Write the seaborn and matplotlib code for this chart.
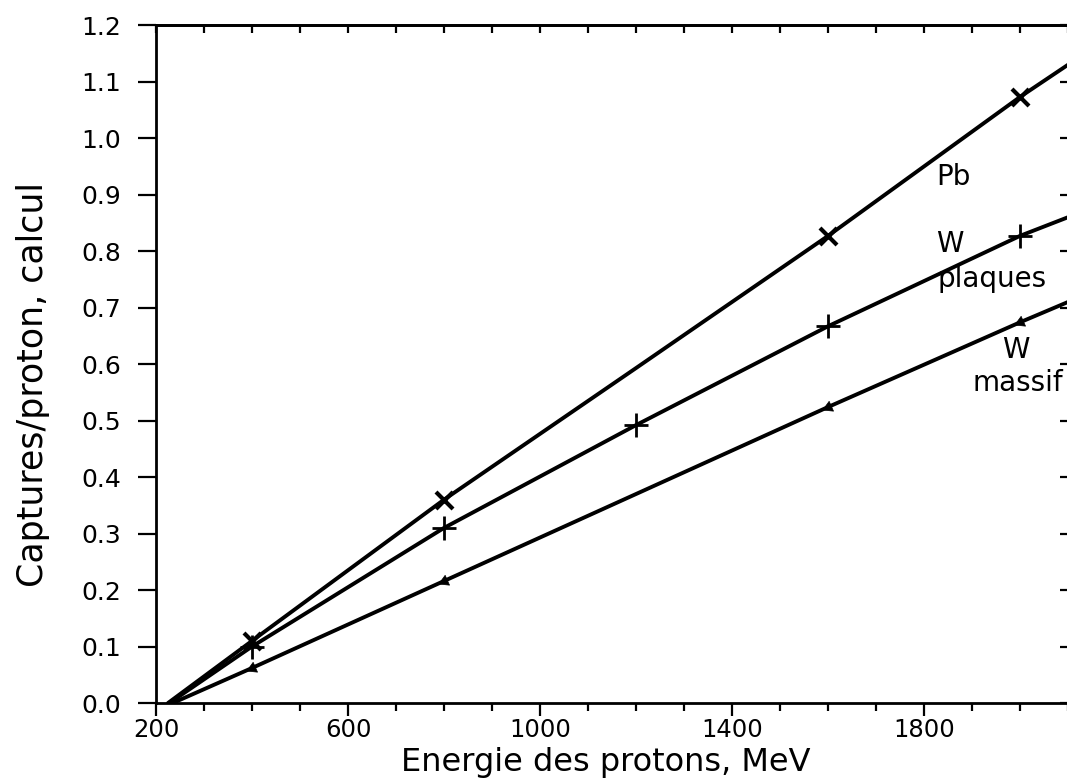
import numpy as np
import matplotlib
matplotlib.use("Agg")
import matplotlib.pyplot as plt
import seaborn as sns

# ---- data ----
pb_x = [400, 800, 1600, 2000]
pb_y = [0.11, 0.36, 0.827, 1.073]
plaques_x = [400, 800, 1200, 1600, 2000]
plaques_y = [0.10, 0.31, 0.492, 0.667, 0.827]
massif_x = [400, 800, 1600, 2000]
massif_y = [0.062, 0.216, 0.524, 0.674]

# drawn curves
pb_curve_x = [225, 400, 800, 1200, 1600, 2000, 2100]
pb_curve_y = [0.0, 0.11, 0.36, 0.593, 0.827, 1.073, 1.13]
plaques_curve_x = [228, 400, 800, 1200, 1600, 2000, 2100]
plaques_curve_y = [0.0, 0.10, 0.31, 0.492, 0.667, 0.827, 0.86]
massif_curve_x = [235, 400, 800, 1600, 2000, 2100]
massif_curve_y = [0.0, 0.062, 0.216, 0.524, 0.674, 0.71]

x_major = [200, 600, 1000, 1400, 1800]
y_ticks = [0.0, 0.1, 0.2, 0.3, 0.4, 0.5, 0.6, 0.7, 0.8, 0.9, 1.0, 1.1, 1.2]

sns.set_style("ticks")
plt.rcParams["font.family"] = ["DejaVu Sans"]
plt.rcParams.update({"text.color": "black", "axes.labelcolor": "black",
                     "xtick.color": "black", "ytick.color": "black",
                     "axes.edgecolor": "black"})

fig = plt.figure(figsize=(10.67, 7.82), dpi=100)
ax = fig.add_axes([0.1462, 0.101, 0.855, 0.867])

lw = 2.8
sns.lineplot(x=pb_curve_x, y=pb_curve_y, ax=ax, color="black", lw=lw, sort=False)
sns.lineplot(x=plaques_curve_x, y=plaques_curve_y, ax=ax, color="black", lw=lw, sort=False)
sns.lineplot(x=massif_curve_x, y=massif_curve_y, ax=ax, color="black", lw=lw, sort=False)

sns.scatterplot(x=pb_x, y=pb_y, ax=ax, color="black", marker="x", s=150, linewidth=3.0, zorder=5)
sns.scatterplot(x=plaques_x, y=plaques_y, ax=ax, color="black", marker="+", s=300, linewidth=2.0, zorder=5)
sns.scatterplot(x=massif_x, y=massif_y, ax=ax, color="black", marker=(3, 0, 114), s=80,
                linewidth=0.5, edgecolor="black", zorder=5)

ax.set_xlim(200, 2100)
ax.set_ylim(0.0, 1.2)

ax.set_xticks(x_major)
ax.set_xticks(np.arange(200, 2101, 100), minor=True)
ax.set_yticks(y_ticks)
ax.set_yticklabels([f"{v:.1f}" for v in y_ticks])

for s in ax.spines.values():
    s.set_linewidth(2.0)
    s.set_color("black")

ax.tick_params(axis="x", which="major", direction="out", length=9, width=1.6,
               pad=2, labelsize=17.5, colors="black")
ax.tick_params(axis="x", which="minor", direction="out", length=6, width=1.6)
ax.tick_params(axis="y", which="major", direction="out", length=13, width=1.6,
               pad=12, labelsize=18, colors="black")

top = ax.secondary_xaxis("top")
top.set_xticks(np.arange(200, 2101, 100))
top.tick_params(direction="in", length=6, width=1.6, labeltop=False)
top.spines["top"].set_linewidth(2.0)

right = ax.secondary_yaxis("right")
right.set_yticks(y_ticks)
right.tick_params(direction="in", length=6, width=1.6, labelright=False)
right.spines["right"].set_linewidth(2.0)

ax.set_xlabel("Energie des protons, MeV", fontsize=23)
ax.set_ylabel("Captures/proton, calcul", fontsize=25)
ax.xaxis.set_label_coords(0.493, -0.065)
ax.yaxis.set_label_coords(-0.116, 0.47)

tkw = dict(fontsize=20, color="black", va="baseline", ha="left")
ax.text(1825, 0.917, "Pb", **tkw)
ax.text(1825, 0.798, "W", **tkw)
ax.text(1827, 0.736, "plaques", **tkw)
ax.text(1962, 0.610, "W", **tkw)
ax.text(1900, 0.553, "massif", **tkw)

fig.savefig("out.png", dpi=100)
